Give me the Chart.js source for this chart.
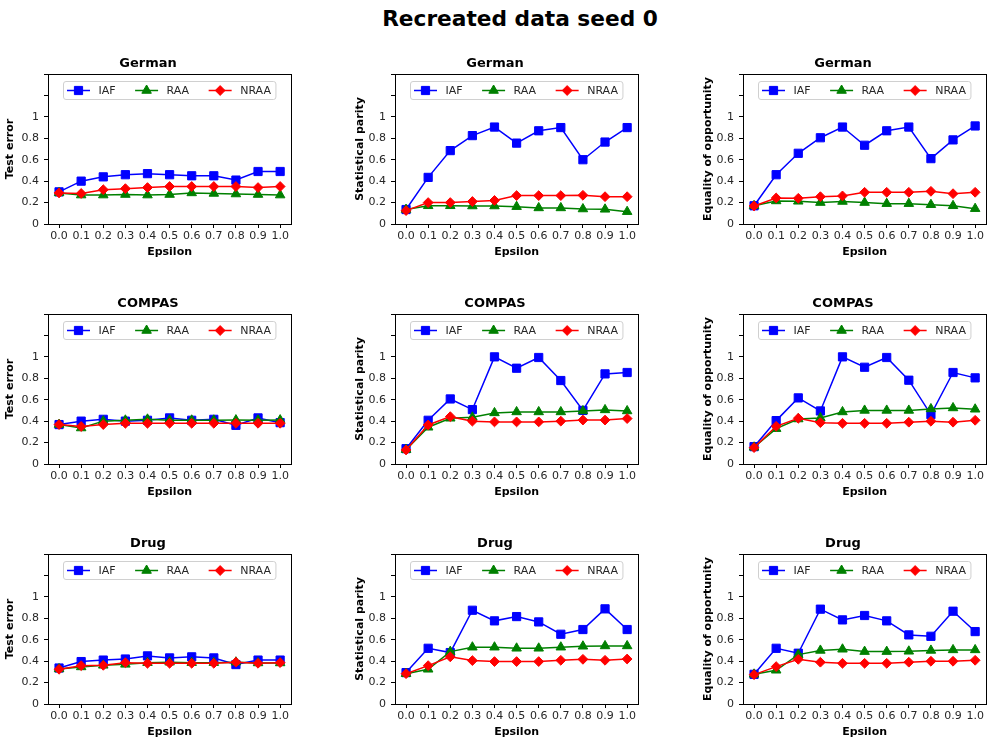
<!DOCTYPE html>
<html>
<head>
<meta charset="utf-8">
<script src="https://cdn.jsdelivr.net/npm/chart.js@4.4.1/dist/chart.umd.min.js"></script>
<style>
  html, body { margin: 0; padding: 0; background: #fff; width: 992px; height: 740px; overflow: hidden; }
  #suptitle { position: absolute; left: 0; top: 6px; width: 1040px; text-align: center;
              font: bold 21.7px "DejaVu Sans", sans-serif; color: #000; white-space: nowrap; }
  canvas { position: absolute; }
</style>
</head>
<body>
<div id="suptitle">Recreated data seed 0</div>
<script>
// ---- data ----
const epsilon = [0.0, 0.1, 0.2, 0.3, 0.4, 0.5, 0.6, 0.7, 0.8, 0.9, 1.0];
const yTicks = [0, 0.2, 0.4, 0.6, 0.8, 1.0, 1.2, 1.4];
const datasetNames = ['German', 'COMPAS', 'Drug'];
const metricNames = ['Test error', 'Statistical parity', 'Equality of opportunity'];
const methods = ['IAF', 'RAA', 'NRAA'];

// German
const germanErrIAF  = [0.30, 0.40, 0.44, 0.46, 0.47, 0.46, 0.45, 0.45, 0.41, 0.49, 0.49];
const germanErrRAA  = [0.29, 0.27, 0.27, 0.275, 0.27, 0.275, 0.29, 0.285, 0.28, 0.275, 0.27];
const germanErrNRAA = [0.29, 0.285, 0.32, 0.33, 0.34, 0.35, 0.35, 0.35, 0.35, 0.34, 0.35];
const germanSpIAF   = [0.135, 0.435, 0.685, 0.825, 0.905, 0.755, 0.87, 0.90, 0.60, 0.765, 0.90];
const germanSpRAA   = [0.135, 0.17, 0.17, 0.168, 0.168, 0.162, 0.15, 0.15, 0.14, 0.137, 0.115];
const germanSpNRAA  = [0.125, 0.20, 0.20, 0.21, 0.22, 0.265, 0.265, 0.265, 0.268, 0.255, 0.255];
const germanEoIAF   = [0.17, 0.46, 0.66, 0.805, 0.905, 0.735, 0.87, 0.905, 0.61, 0.785, 0.915];
const germanEoRAA   = [0.17, 0.215, 0.212, 0.20, 0.21, 0.20, 0.19, 0.19, 0.18, 0.17, 0.143];
const germanEoNRAA  = [0.168, 0.243, 0.24, 0.255, 0.262, 0.296, 0.296, 0.296, 0.305, 0.283, 0.296];

// COMPAS
const compasErrIAF  = [0.368, 0.40, 0.417, 0.40, 0.408, 0.43, 0.408, 0.417, 0.361, 0.43, 0.386];
const compasErrRAA  = [0.368, 0.336, 0.40, 0.408, 0.417, 0.408, 0.408, 0.408, 0.41, 0.408, 0.41];
const compasErrNRAA = [0.368, 0.35, 0.368, 0.38, 0.38, 0.38, 0.38, 0.38, 0.38, 0.38, 0.38];
const compasSpIAF   = [0.143, 0.408, 0.607, 0.508, 1.0, 0.894, 0.994, 0.779, 0.50, 0.841, 0.854];
const compasSpRAA   = [0.134, 0.343, 0.427, 0.436, 0.477, 0.486, 0.486, 0.486, 0.495, 0.505, 0.495];
const compasSpNRAA  = [0.131, 0.364, 0.442, 0.40, 0.393, 0.393, 0.393, 0.40, 0.41, 0.41, 0.424];
const compasEoIAF   = [0.162, 0.405, 0.617, 0.495, 1.0, 0.903, 0.994, 0.782, 0.461, 0.854, 0.804];
const compasEoRAA   = [0.156, 0.33, 0.42, 0.43, 0.486, 0.50, 0.50, 0.50, 0.514, 0.523, 0.511];
const compasEoNRAA  = [0.153, 0.352, 0.427, 0.386, 0.38, 0.38, 0.38, 0.39, 0.399, 0.39, 0.408];

// Drug
const drugErrIAF  = [0.336, 0.396, 0.41, 0.42, 0.449, 0.43, 0.44, 0.43, 0.368, 0.41, 0.41];
const drugErrRAA  = [0.327, 0.346, 0.361, 0.37, 0.386, 0.39, 0.386, 0.386, 0.39, 0.383, 0.383];
const drugErrNRAA = [0.324, 0.358, 0.361, 0.386, 0.38, 0.38, 0.38, 0.38, 0.39, 0.38, 0.386];
const drugSpIAF   = [0.293, 0.52, 0.48, 0.875, 0.776, 0.816, 0.766, 0.651, 0.695, 0.888, 0.695];
const drugSpRAA   = [0.283, 0.324, 0.489, 0.53, 0.53, 0.52, 0.52, 0.53, 0.539, 0.542, 0.542];
const drugSpNRAA  = [0.283, 0.358, 0.44, 0.405, 0.396, 0.396, 0.396, 0.408, 0.417, 0.408, 0.42];
const drugEoIAF   = [0.277, 0.52, 0.474, 0.885, 0.785, 0.826, 0.776, 0.645, 0.632, 0.866, 0.676];
const drugEoRAA   = [0.277, 0.315, 0.461, 0.50, 0.511, 0.489, 0.489, 0.492, 0.50, 0.505, 0.505];
const drugEoNRAA  = [0.274, 0.349, 0.417, 0.39, 0.38, 0.38, 0.38, 0.39, 0.399, 0.399, 0.408];

const grid = [
  [[germanErrIAF, germanErrRAA, germanErrNRAA], [germanSpIAF, germanSpRAA, germanSpNRAA], [germanEoIAF, germanEoRAA, germanEoNRAA]],
  [[compasErrIAF, compasErrRAA, compasErrNRAA], [compasSpIAF, compasSpRAA, compasSpNRAA], [compasEoIAF, compasEoRAA, compasEoNRAA]],
  [[drugErrIAF, drugErrRAA, drugErrNRAA], [drugSpIAF, drugSpRAA, drugSpNRAA], [drugEoIAF, drugEoRAA, drugEoNRAA]]
];

// ---- styling ----
const FONT = '"DejaVu Sans", sans-serif';
const methodColors = ['#0000ff', '#008000', '#ff0000'];
const methodMarkers = ['rect', 'triangle', 'rectRot'];
const markerRadius = [5.8, 5.5, 4.9];

// panel geometry (plot area of each subplot)
const plotLefts = [48, 395, 743];
const plotTops = [74, 314, 554];
const PLOT_W = 248, PLOT_H = 150;
const AXIS_W = 48, TOP_H = 30, BOTTOM_H = 40, RIGHT_PAD = 2;
const yTitlePad = [3.6, 6.4, 6.4];

// frame around the plot area plus legend inside it
const framePlugin = {
  id: 'frameAndLegend',
  afterDatasetsDraw(chart) {
    const { ctx, chartArea: a } = chart;
    const al = v => Math.round(v - 0.5) + 0.5;
    ctx.save();
    ctx.strokeStyle = '#000';
    ctx.lineWidth = 1;
    ctx.strokeRect(al(a.left), al(a.top), al(a.right) - al(a.left), al(a.bottom) - al(a.top));

    // legend
    const ds = chart.data.datasets;
    ctx.font = '11px ' + FONT;
    const handle = 23, gap = 8.5, colSp = 19.5, padL = 3.5, padR = 5;
    const widths = ds.map(d => ctx.measureText(d.label).width);
    const total = padL + padR + widths.reduce((s, w) => s + handle + gap + w, 0) + colSp * (ds.length - 1);
    const bx = Math.round((a.left + a.right) / 2 - total / 2) + 0.5;
    const by = Math.round(a.top + 6.5) + 0.5;
    const bh = 18;
    ctx.beginPath();
    if (ctx.roundRect) ctx.roundRect(bx, by, total, bh, 2.5); else ctx.rect(bx, by, total, bh);
    ctx.fillStyle = 'rgba(255,255,255,0.8)';
    ctx.fill();
    ctx.strokeStyle = '#d0d0d0';
    ctx.stroke();

    let x = bx + padL;
    const ly = by + bh / 2;
    ds.forEach((d, i) => {
      ctx.strokeStyle = d.borderColor;
      ctx.lineWidth = d.borderWidth;
      ctx.beginPath();
      ctx.moveTo(x, ly);
      ctx.lineTo(x + handle, ly);
      ctx.stroke();
      ctx.fillStyle = d.pointBackgroundColor;
      ctx.strokeStyle = d.pointBorderColor;
      ctx.lineWidth = 1;
      Chart.helpers.drawPoint(ctx, { pointStyle: d.pointStyle, radius: d.pointRadius, rotation: 0, borderWidth: 1 }, x + handle / 2, ly);
      ctx.fillStyle = '#262626';
      ctx.textAlign = 'left';
      ctx.textBaseline = 'middle';
      ctx.fillText(d.label, x + handle + gap, ly + 0.5);
      x += handle + gap + widths[i] + colSp;
    });
    ctx.restore();
  }
};

function makePanel(row, col) {
  const canvas = document.createElement('canvas');
  const w = AXIS_W + PLOT_W + RIGHT_PAD, h = TOP_H + PLOT_H + BOTTOM_H;
  canvas.width = w; canvas.height = h;
  canvas.style.left = (plotLefts[col] - AXIS_W) + 'px';
  canvas.style.top = (plotTops[row] - TOP_H) + 'px';
  canvas.style.width = w + 'px'; canvas.style.height = h + 'px';
  document.body.appendChild(canvas);

  const series = grid[row][col];
  const datasets = methods.map((m, i) => ({
    label: m,
    data: epsilon.map((e, k) => ({ x: e, y: series[i][k] })),
    borderColor: methodColors[i],
    backgroundColor: methodColors[i],
    pointBackgroundColor: methodColors[i],
    pointBorderColor: methodColors[i],
    pointStyle: methodMarkers[i],
    pointRadius: markerRadius[i],
    pointBorderWidth: 1,
    borderWidth: 1.5,
    tension: 0,
    order: methods.length - i
  }));

  new Chart(canvas, {
    type: 'line',
    data: { datasets },
    plugins: [framePlugin],
    options: {
      responsive: false,
      animation: false,
      devicePixelRatio: 1,
      layout: { padding: { left: 0, right: RIGHT_PAD, top: 0, bottom: 0 } },
      plugins: {
        legend: { display: false },
        tooltip: { enabled: false },
        title: {
          display: true,
          text: datasetNames[row],
          color: '#000',
          font: { family: FONT, size: 13, weight: 'bold' },
          padding: { top: 12.2, bottom: 2.2 }
        }
      },
      scales: {
        x: {
          type: 'linear',
          min: -0.05, max: 1.05,
          afterBuildTicks: s => { s.ticks = epsilon.map(v => ({ value: v })); },
          afterFit: s => { s.height = BOTTOM_H; },
          ticks: {
            autoSkip: false, maxRotation: 0, minRotation: 0,
            padding: 1.5, color: '#262626',
            font: { family: FONT, size: 11 },
            callback: v => Number(v).toFixed(1)
          },
          grid: { display: true, drawOnChartArea: false, drawTicks: true, tickLength: 4, color: '#000', lineWidth: 1 },
          border: { display: false },
          title: {
            display: true, text: 'Epsilon', color: '#000',
            font: { family: FONT, size: 11, weight: 'bold' },
            padding: { top: 0, bottom: 5.4 }
          }
        },
        y: {
          type: 'linear',
          min: 0, max: 1.4,
          afterBuildTicks: s => { s.ticks = yTicks.map(v => ({ value: v })); },
          afterFit: s => { s.width = AXIS_W; },
          ticks: {
            autoSkip: false, padding: 5, color: '#262626',
            font: { family: FONT, size: 11 },
            callback: v => (v > 1.001 ? '' : String(Math.round(v * 10) / 10))
          },
          grid: { display: true, drawOnChartArea: false, drawTicks: true, tickLength: 4, color: '#000', lineWidth: 1 },
          border: { display: false },
          title: {
            display: true, text: metricNames[col], color: '#000',
            font: { family: FONT, size: 11, weight: 'bold' },
            padding: { top: yTitlePad[col], bottom: 0 }
          }
        }
      }
    }
  });
}

for (let r = 0; r < 3; r++) for (let c = 0; c < 3; c++) makePanel(r, c);
</script>
</body>
</html>
